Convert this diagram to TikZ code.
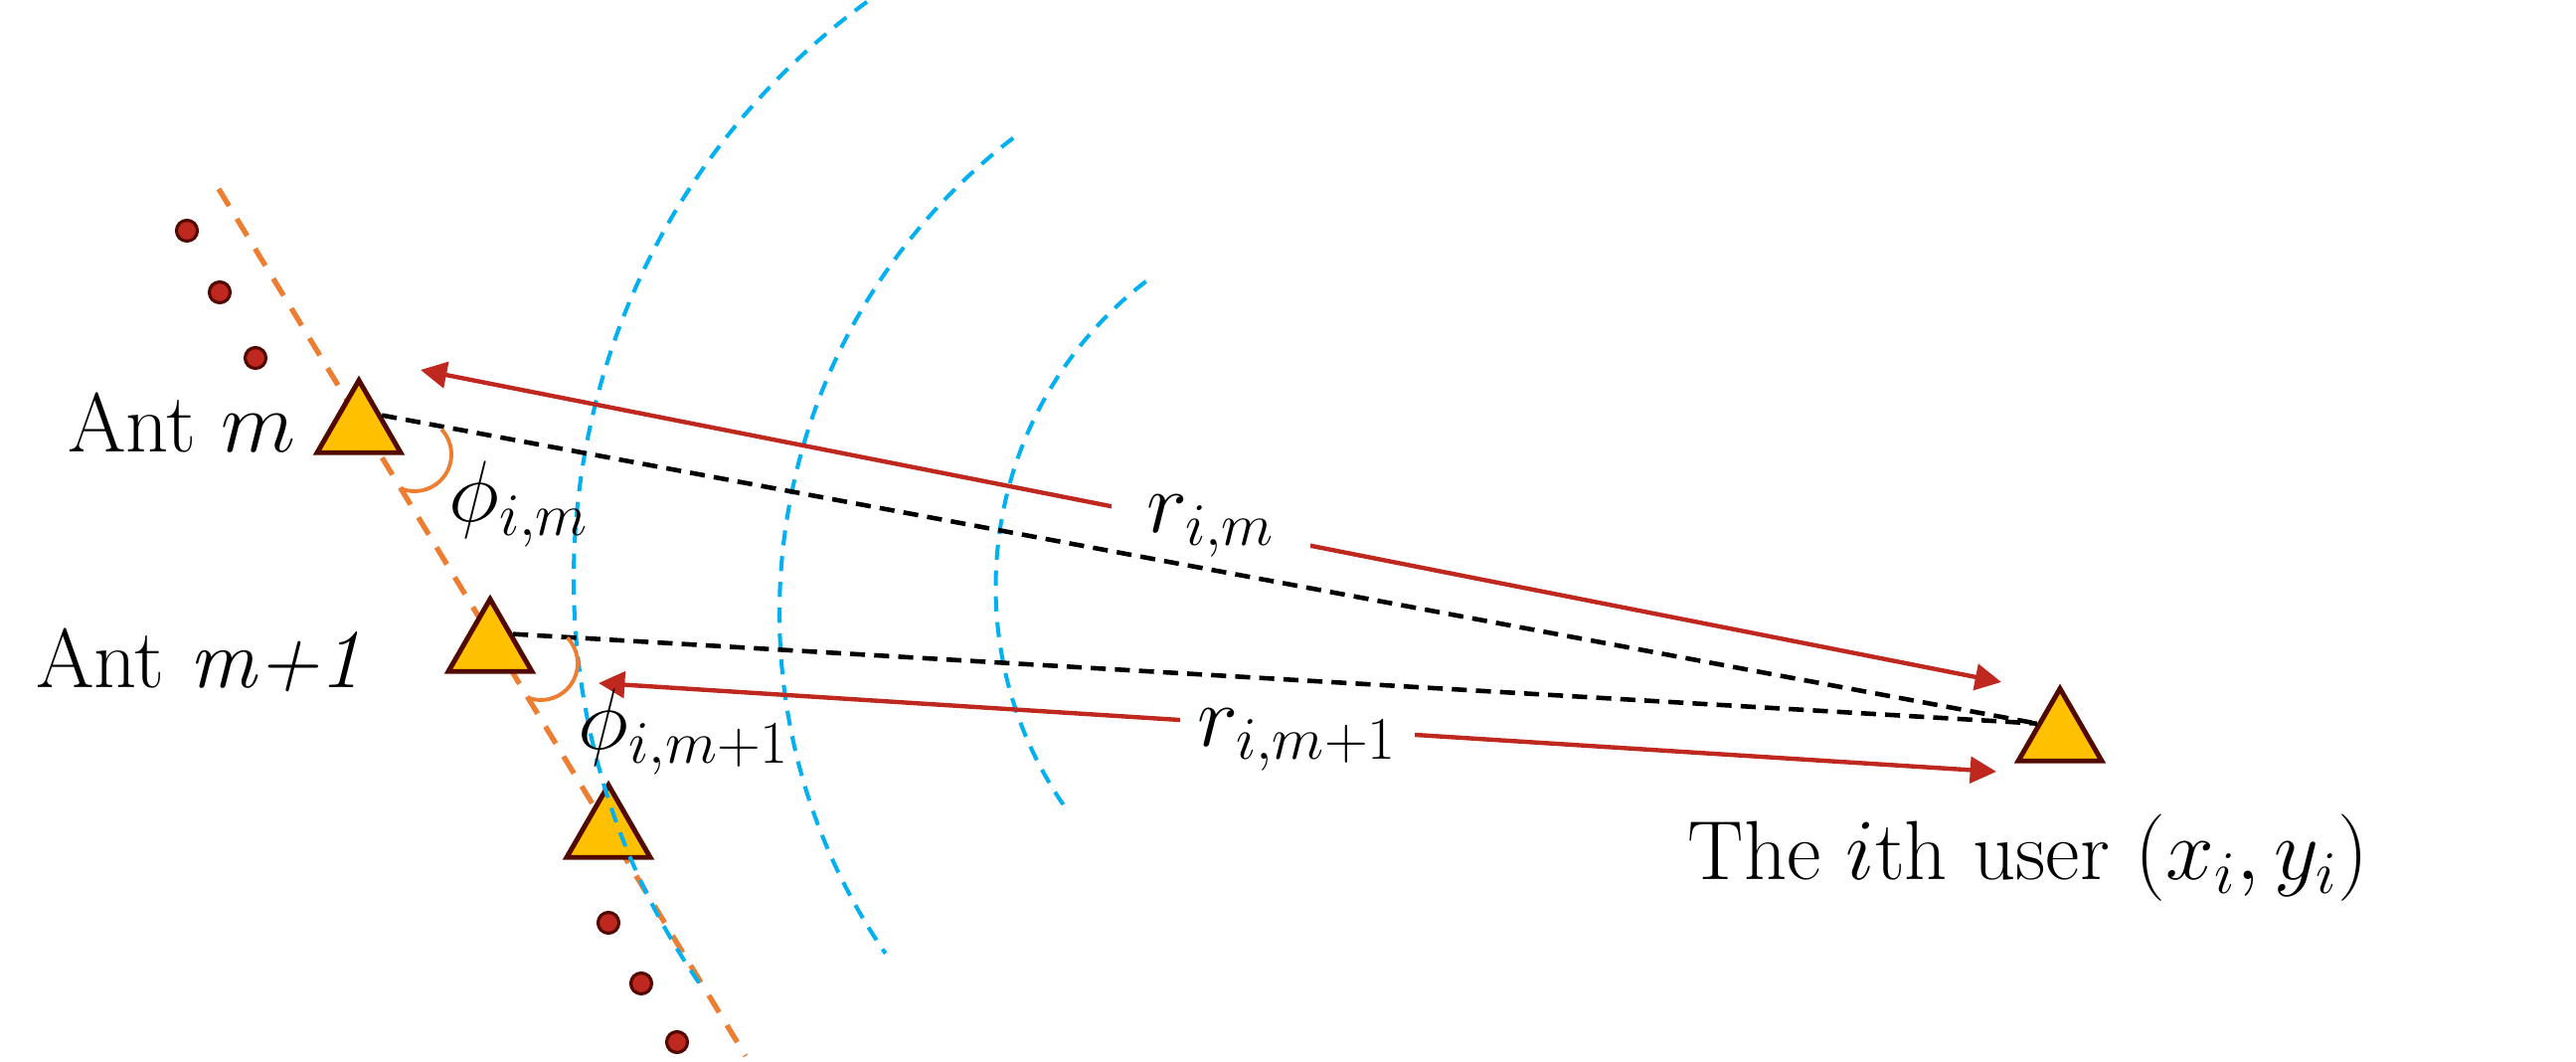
\documentclass[tikz,border=0pt]{standalone}
\usepackage{amsmath}
\usetikzlibrary{arrows.meta,shapes.geometric,positioning}
\definecolor{antyellow}{RGB}{255,192,0}
\definecolor{antbrown}{RGB}{82,10,0}
\definecolor{rayred}{RGB}{190,40,30}
\definecolor{waveblue}{RGB}{0,176,240}
\definecolor{arrayorange}{RGB}{237,125,49}
\DeclareMathSizes{24}{24}{18}{14}

\begin{document}
\begin{tikzpicture}[font=\fontsize{24}{28}\selectfont,
    ant/.style={regular polygon, regular polygon sides=3, minimum size=0.97cm, inner sep=0pt, draw=antbrown, fill=antyellow, line width=1.4pt},
    dot/.style={circle, minimum size=0.21cm, inner sep=0pt, draw=antbrown, fill=rayred, line width=0.9pt},
    wave/.style={waveblue, line width=1.15pt, dash pattern=on 4.3pt off 3.1pt},
    ray/.style={rayred, line width=1.25pt, {Triangle[length=7.5pt,width=7.5pt]}-{Triangle[length=7.5pt,width=7.5pt]}},
    sight/.style={black, line width=1.3pt, dash pattern=on 4.3pt off 2.6pt},
    phiarc/.style={arrayorange, line width=1.1pt},
    gaplbl/.style={fill=white, text=black, inner ysep=0pt}]
    \useasboundingbox (0,0) rectangle (25.91,10.68);

    % array axis
    \draw[arrayorange, line width=1.5pt, dash pattern=on 5.7pt off 4.3pt] (2.20,8.78) -- (7.50,0.06);

    % more antennas
    \node[dot] (d1) at (1.88,8.36) {};
    \node[dot] (d2) at (2.21,7.74) {};
    \node[dot] (d3) at (2.57,7.08) {};
    \node[dot] (d4) at (6.12,1.40) {};
    \node[dot] (d5) at (6.45,0.79) {};
    \node[dot] (d6) at (6.81,0.20) {};

    \node[ant] (antm) at (3.61,6.37) {};
    \node[ant] (antm1) at (4.93,4.17) {};
    \node[ant] (antm2) at (6.12,2.30) {};
    \node[ant] (user) at (20.72,3.27) {};

    % wavefronts
    \draw[wave] (12.95,4.86) ++(126.1:7.18) arc[start angle=126.1, end angle=215.2, radius=7.18];
    \draw[wave] (13.87,4.515) ++(127.6:6.03) arc[start angle=127.6, end angle=214.6, radius=6.03];
    \draw[wave] (13.89,4.78) ++(127.6:3.875) arc[start angle=127.6, end angle=215.5, radius=3.875];

    % distances
    \coordinate (rma) at (4.23,6.96);
    \coordinate (rmu) at (20.13,3.82);
    \coordinate (rm1a) at (6.02,3.81);
    \coordinate (rm1u) at (20.08,2.92);
    \draw[ray] (rma) -- node[gaplbl, inner xsep=10pt] {$r_{i,m}$} (rmu);
    \draw[ray] (rm1a) -- node[gaplbl, inner xsep=5pt, yshift=-3.5pt] {$r_{i,m+1}$} (rm1u);

    \draw[sight] (antm.side 3) -- (user.side 1);
    \draw[sight] (antm1.side 3) -- (user.side 1);

    % angles
    \draw[phiarc] (4.17,6.11) ++(43:0.37) arc[start angle=43, end angle=-110, radius=0.37];
    \draw[phiarc] (5.44,4.01) ++(44:0.37) arc[start angle=44, end angle=-111, radius=0.37];

    \node[anchor=base] (lantm) at (1.83,6.13) {Ant $m$};
    \node[anchor=base] (lantm1) at (2.00,3.765) {Ant \textit{m+1}};
    \node[anchor=base] (phim) at (5.22,5.43) {$\phi_{i,m}$};
    \node[anchor=base] (phim1) at (6.88,3.14) {$\phi_{i,m+1}$};
    \node[anchor=base] (luser) at (20.40,1.83) {The $i$th user $(x_i,y_i)$};
\end{tikzpicture}
\end{document}
